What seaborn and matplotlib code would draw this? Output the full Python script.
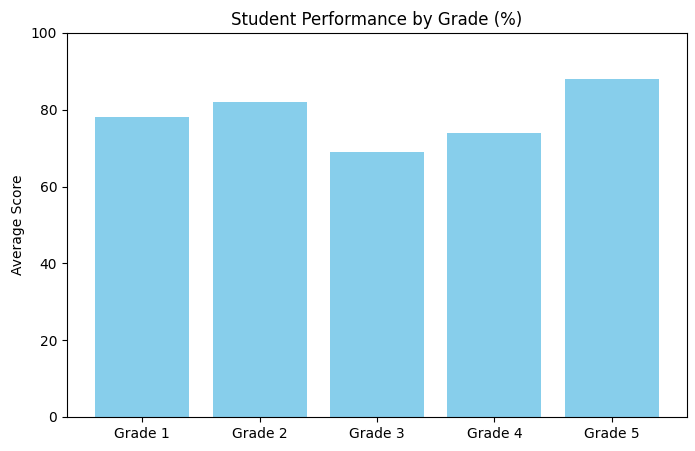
import matplotlib
matplotlib.use("Agg")
import matplotlib.pyplot as plt
import seaborn as sns
import pandas as pd

grades = ["Grade 1", "Grade 2", "Grade 3", "Grade 4", "Grade 5"]
scores = [78, 82, 69, 74, 88]

df = pd.DataFrame({"Grade": grades, "Score": scores})
fig = plt.figure(figsize=(6.95, 4.51), dpi=100)
ax = fig.add_axes([67/695, 1-417/451, 620/695, 384/451])
sns.barplot(data=df, x="Grade", y="Score", color="skyblue", saturation=1, width=0.8, ax=ax)
ax.set_ylim(0, 100)
ax.set_xlim(-0.64, 4.64)
ax.set_xlabel("")
ax.set_ylabel("Average Score")
ax.set_title("Student Performance by Grade (%)")
fig.savefig("out.png", dpi=100)
